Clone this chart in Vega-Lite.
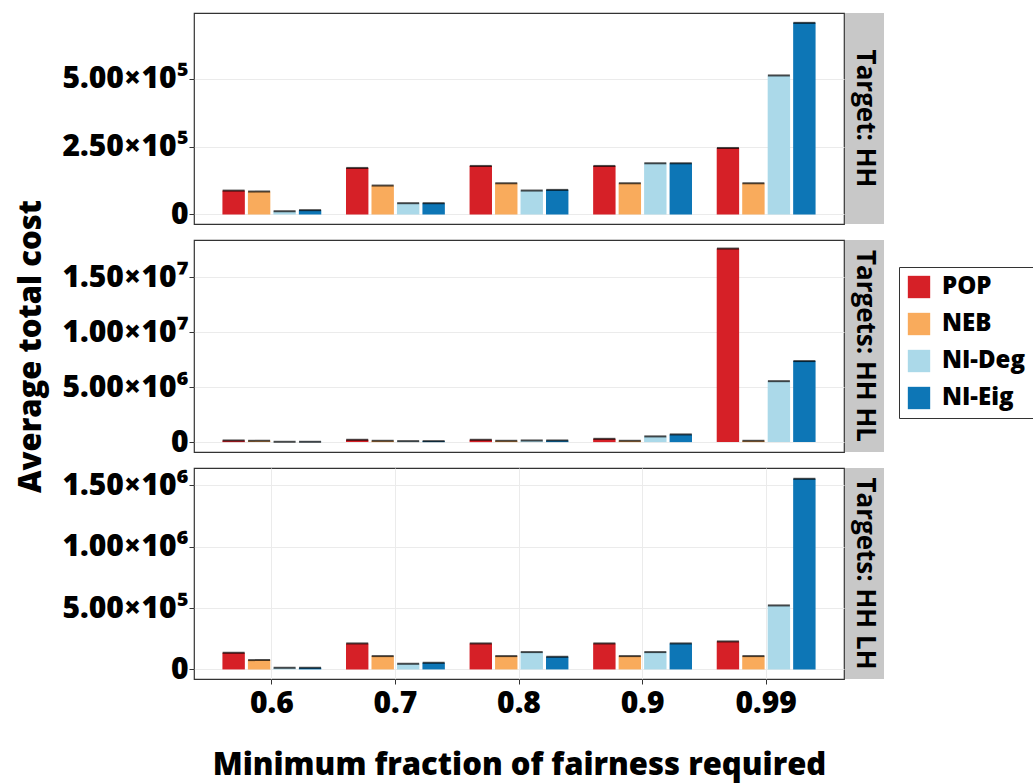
{
  "$schema": "https://vega.github.io/schema/vega-lite/v6.json",
  "autosize": {"type": "pad"},
  "padding": {"left": 15, "top": 12, "right": 2, "bottom": 5},
  "bounds": "flush",
  "columns": 2,
  "spacing": {"row": 16, "column": 1},
  "datasets": {
    "d": [
      {"panel": "HH", "frac": "0.6", "method": "POP", "cost": 88000},
      {"panel": "HH", "frac": "0.6", "method": "NEB", "cost": 84500},
      {"panel": "HH", "frac": "0.6", "method": "NI-Deg", "cost": 12000},
      {"panel": "HH", "frac": "0.6", "method": "NI-Eig", "cost": 16000},
      {"panel": "HH", "frac": "0.7", "method": "POP", "cost": 171500},
      {"panel": "HH", "frac": "0.7", "method": "NEB", "cost": 106600},
      {"panel": "HH", "frac": "0.7", "method": "NI-Deg", "cost": 41600},
      {"panel": "HH", "frac": "0.7", "method": "NI-Eig", "cost": 41600},
      {"panel": "HH", "frac": "0.8", "method": "POP", "cost": 178800},
      {"panel": "HH", "frac": "0.8", "method": "NEB", "cost": 115000},
      {"panel": "HH", "frac": "0.8", "method": "NI-Deg", "cost": 88200},
      {"panel": "HH", "frac": "0.8", "method": "NI-Eig", "cost": 90600},
      {"panel": "HH", "frac": "0.9", "method": "POP", "cost": 178800},
      {"panel": "HH", "frac": "0.9", "method": "NEB", "cost": 115000},
      {"panel": "HH", "frac": "0.9", "method": "NI-Deg", "cost": 188600},
      {"panel": "HH", "frac": "0.9", "method": "NI-Eig", "cost": 188600},
      {"panel": "HH", "frac": "0.99", "method": "POP", "cost": 245000},
      {"panel": "HH", "frac": "0.99", "method": "NEB", "cost": 115000},
      {"panel": "HH", "frac": "0.99", "method": "NI-Deg", "cost": 512000},
      {"panel": "HH", "frac": "0.99", "method": "NI-Eig", "cost": 705700},
      {"panel": "HH HL", "frac": "0.6", "method": "POP", "cost": 150000},
      {"panel": "HH HL", "frac": "0.6", "method": "NEB", "cost": 120000},
      {"panel": "HH HL", "frac": "0.6", "method": "NI-Deg", "cost": 30000},
      {"panel": "HH HL", "frac": "0.6", "method": "NI-Eig", "cost": 30000},
      {"panel": "HH HL", "frac": "0.7", "method": "POP", "cost": 213000},
      {"panel": "HH HL", "frac": "0.7", "method": "NEB", "cost": 120000},
      {"panel": "HH HL", "frac": "0.7", "method": "NI-Deg", "cost": 90000},
      {"panel": "HH HL", "frac": "0.7", "method": "NI-Eig", "cost": 90000},
      {"panel": "HH HL", "frac": "0.8", "method": "POP", "cost": 213000},
      {"panel": "HH HL", "frac": "0.8", "method": "NEB", "cost": 120000},
      {"panel": "HH HL", "frac": "0.8", "method": "NI-Deg", "cost": 150000},
      {"panel": "HH HL", "frac": "0.8", "method": "NI-Eig", "cost": 150000},
      {"panel": "HH HL", "frac": "0.9", "method": "POP", "cost": 300000},
      {"panel": "HH HL", "frac": "0.9", "method": "NEB", "cost": 120000},
      {"panel": "HH HL", "frac": "0.9", "method": "NI-Deg", "cost": 520000},
      {"panel": "HH HL", "frac": "0.9", "method": "NI-Eig", "cost": 700000},
      {"panel": "HH HL", "frac": "0.99", "method": "POP", "cost": 17620000},
      {"panel": "HH HL", "frac": "0.99", "method": "NEB", "cost": 120000},
      {"panel": "HH HL", "frac": "0.99", "method": "NI-Deg", "cost": 5549000},
      {"panel": "HH HL", "frac": "0.99", "method": "NI-Eig", "cost": 7378000},
      {"panel": "HH LH", "frac": "0.6", "method": "POP", "cost": 135900},
      {"panel": "HH LH", "frac": "0.6", "method": "NEB", "cost": 76000},
      {"panel": "HH LH", "frac": "0.6", "method": "NI-Deg", "cost": 13600},
      {"panel": "HH LH", "frac": "0.6", "method": "NI-Eig", "cost": 13600},
      {"panel": "HH LH", "frac": "0.7", "method": "POP", "cost": 212000},
      {"panel": "HH LH", "frac": "0.7", "method": "NEB", "cost": 108700},
      {"panel": "HH LH", "frac": "0.7", "method": "NI-Deg", "cost": 46200},
      {"panel": "HH LH", "frac": "0.7", "method": "NI-Eig", "cost": 54300},
      {"panel": "HH LH", "frac": "0.8", "method": "POP", "cost": 212000},
      {"panel": "HH LH", "frac": "0.8", "method": "NEB", "cost": 108700},
      {"panel": "HH LH", "frac": "0.8", "method": "NI-Deg", "cost": 141300},
      {"panel": "HH LH", "frac": "0.8", "method": "NI-Eig", "cost": 103200},
      {"panel": "HH LH", "frac": "0.9", "method": "POP", "cost": 212000},
      {"panel": "HH LH", "frac": "0.9", "method": "NEB", "cost": 108700},
      {"panel": "HH LH", "frac": "0.9", "method": "NI-Deg", "cost": 141300},
      {"panel": "HH LH", "frac": "0.9", "method": "NI-Eig", "cost": 212000},
      {"panel": "HH LH", "frac": "0.99", "method": "POP", "cost": 228200},
      {"panel": "HH LH", "frac": "0.99", "method": "NEB", "cost": 108700},
      {"panel": "HH LH", "frac": "0.99", "method": "NI-Deg", "cost": 521700},
      {"panel": "HH LH", "frac": "0.99", "method": "NI-Eig", "cost": 1554000}
    ]
  },
  "config": {
    "font": "Open Sans",
    "view": {"stroke": "#333333", "strokeWidth": 1.2},
    "axis": {
      "labelFont": "Open Sans", "labelFontWeight": 800, "labelColor": "black", "labelFontSize": 30,
      "tickColor": "#333333", "tickSize": 5, "domain": false, "gridColor": "#ebebeb",
      "titleFont": "Open Sans", "titleFontWeight": 800, "titleFontSize": 31, "titleColor": "black"
    },
    "legend": {
      "labelFont": "Open Sans", "labelFontWeight": 800, "labelFontSize": 24, "labelColor": "black"
    }
  },
  "concat": [
    {
      "width": 650, "height": 211,
      "data": {"name": "d"},
      "transform": [{"filter": "datum.panel == 'HH'"}],
      "encoding": {
        "x": {"field": "frac", "type": "nominal", "sort": ["0.6", "0.7", "0.8", "0.9", "0.99"], "scale": {"paddingInner": 0.2, "paddingOuter": 0.23}, "axis": null},
        "xOffset": {"field": "method", "type": "nominal", "sort": ["POP", "NEB", "NI-Deg", "NI-Eig"], "scale": {"paddingInner": 0.12}},
        "y": {"field": "cost", "type": "quantitative", "scale": {"domain": [-35000, 742000], "nice": false},
              "axis": {"title": null, "labelPadding": 1, "values": [0, 250000, 500000], "labelExpr": "datum.value == 0 ? '0' : datum.value == 250000 ? '2.50×10⁵' : '5.00×10⁵'"}}
      },
      "layer": [
        {"mark": {"type": "bar"}, "encoding": {"y2": {"datum": 0},
          "color": {"field": "method", "type": "nominal", "sort": ["POP", "NEB", "NI-Deg", "NI-Eig"],
            "scale": {"domain": ["POP", "NEB", "NI-Deg", "NI-Eig"], "range": ["#d62027", "#f9ab5c", "#abd9e9", "#0d76b6"]},
            "legend": {"title": null, "orient": "none", "legendX": 705, "legendY": 254, "symbolType": "square", "symbolSize": 500,
              "symbolStrokeWidth": 0, "strokeColor": "#333333", "fillColor": "white", "padding": 8, "rowPadding": 13, "labelOffset": 11}}}},
        {"mark": {"type": "tick", "color": "black", "thickness": 2, "size": 22}}
      ]
    },
    {
      "width": 39, "height": 211,
      "view": {"fill": "#c8c8c8", "stroke": null},
      "data": {"values": [{"s": "Target: HH"}]},
      "mark": {"type": "text", "angle": 90, "fontSize": 26, "fontWeight": 700, "font": "Open Sans", "color": "black"},
      "encoding": {"text": {"field": "s"}}
    },
    {
      "width": 650, "height": 212,
      "data": {"name": "d"},
      "transform": [{"filter": "datum.panel == 'HH HL'"}],
      "encoding": {
        "x": {"field": "frac", "type": "nominal", "sort": ["0.6", "0.7", "0.8", "0.9", "0.99"], "scale": {"paddingInner": 0.2, "paddingOuter": 0.23}, "axis": null},
        "xOffset": {"field": "method", "type": "nominal", "sort": ["POP", "NEB", "NI-Deg", "NI-Eig"], "scale": {"paddingInner": 0.12}},
        "y": {"field": "cost", "type": "quantitative", "scale": {"domain": [-900000, 18400000], "nice": false},
              "axis": {"title": "Average total cost", "titlePadding": 14, "labelPadding": 1, "values": [0, 5000000, 10000000, 15000000], "labelExpr": "datum.value == 0 ? '0' : datum.value == 5000000 ? '5.00×10⁶' : datum.value == 10000000 ? '1.00×10⁷' : '1.50×10⁷'"}}
      },
      "layer": [
        {"mark": {"type": "bar"}, "encoding": {"y2": {"datum": 0},
          "color": {"field": "method", "type": "nominal", "sort": ["POP", "NEB", "NI-Deg", "NI-Eig"]}}},
        {"mark": {"type": "tick", "color": "black", "thickness": 2, "size": 22}}
      ]
    },
    {
      "width": 39, "height": 212,
      "view": {"fill": "#c8c8c8", "stroke": null},
      "data": {"values": [{"s": "Targets: HH HL"}]},
      "mark": {"type": "text", "angle": 90, "fontSize": 26, "fontWeight": 700, "font": "Open Sans", "color": "black"},
      "encoding": {"text": {"field": "s"}}
    },
    {
      "width": 650, "height": 211,
      "data": {"name": "d"},
      "transform": [{"filter": "datum.panel == 'HH LH'"}],
      "encoding": {
        "x": {"field": "frac", "type": "nominal", "sort": ["0.6", "0.7", "0.8", "0.9", "0.99"], "scale": {"paddingInner": 0.2, "paddingOuter": 0.23},
              "axis": {"title": "Minimum fraction of fairness required", "grid": true, "labelAngle": 0, "labelPadding": 4, "titlePadding": 32}},
        "xOffset": {"field": "method", "type": "nominal", "sort": ["POP", "NEB", "NI-Deg", "NI-Eig"], "scale": {"paddingInner": 0.12}},
        "y": {"field": "cost", "type": "quantitative", "scale": {"domain": [-78000, 1642000], "nice": false},
              "axis": {"title": null, "labelPadding": 1, "values": [0, 500000, 1000000, 1500000], "labelExpr": "datum.value == 0 ? '0' : datum.value == 500000 ? '5.00×10⁵' : datum.value == 1000000 ? '1.00×10⁶' : '1.50×10⁶'"}}
      },
      "layer": [
        {"mark": {"type": "bar"}, "encoding": {"y2": {"datum": 0},
          "color": {"field": "method", "type": "nominal", "sort": ["POP", "NEB", "NI-Deg", "NI-Eig"]}}},
        {"mark": {"type": "tick", "color": "black", "thickness": 2, "size": 22}}
      ]
    },
    {
      "width": 39, "height": 211,
      "view": {"fill": "#c8c8c8", "stroke": null},
      "data": {"values": [{"s": "Targets: HH LH"}]},
      "mark": {"type": "text", "angle": 90, "fontSize": 26, "fontWeight": 700, "font": "Open Sans", "color": "black"},
      "encoding": {"text": {"field": "s"}}
    }
  ]
}
